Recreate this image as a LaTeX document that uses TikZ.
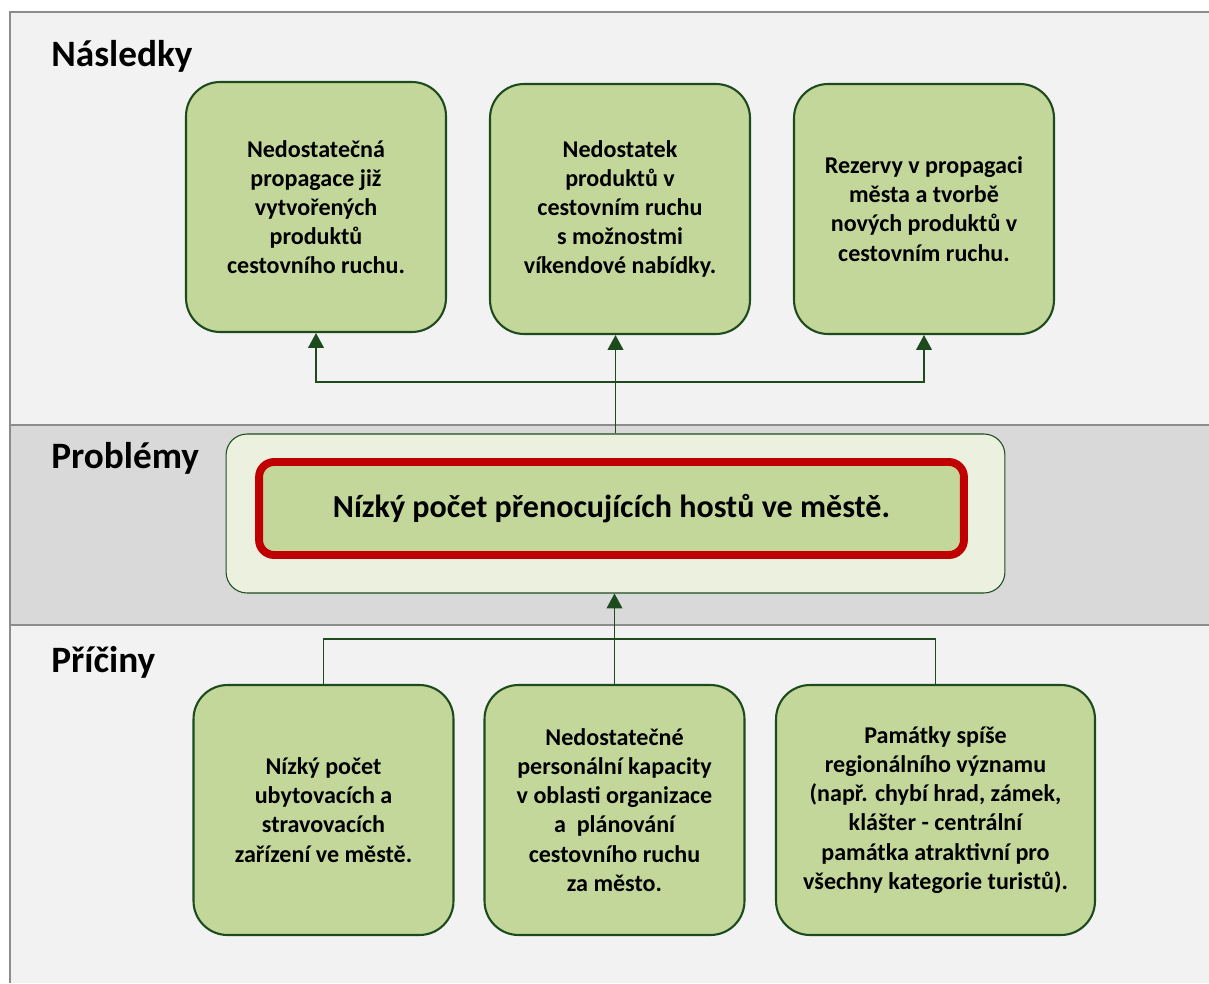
\documentclass[tikz,border=0pt]{standalone}
\usepackage{fontspec}
\setmainfont{Carlito}
\usetikzlibrary{arrows.meta}

\definecolor{bggray}{HTML}{F2F2F2}
\definecolor{bandgray}{HTML}{D9D9D9}
\definecolor{framegray}{HTML}{8C8C8C}
\definecolor{boxgreen}{HTML}{C4D79B}
\definecolor{palegreen}{HTML}{EBF1DE}
\definecolor{darkgreen}{HTML}{1E4B1E}
\definecolor{probred}{HTML}{C00000}

\tikzset{
  greenbox/.style={draw=darkgreen, line width=1.2pt, fill=boxgreen,
    rounded corners=0.68cm, minimum width=5.2cm, minimum height=5cm,
    inner sep=0pt, align=center,
    font=\bfseries\fontsize{13.7}{16.6}\selectfont},
  heading/.style={anchor=base west, inner sep=0pt,
    font=\bfseries\fontsize{21.2}{25}\selectfont},
  conn/.style={draw=darkgreen, line width=0.8pt},
  tip/.style={-{Triangle[width=9pt,length=8.5pt]}}
}

\begin{document}
\begin{tikzpicture}[x=0.02cm, y=-0.02cm]
    \useasboundingbox (0,0) rectangle (1209,983);

    % background and bands
    \fill[bggray] (10,12) rectangle (1209,983);
    \fill[bandgray] (10,425) rectangle (1209,625);
    \draw[framegray, line width=1.2pt] (1209,12) -- (10,12) -- (10,983);
    \draw[framegray, line width=1.6pt] (10,425) -- (1209,425);
    \draw[framegray, line width=1.6pt] (10,625) -- (1209,625);

    \node[heading] (hN) at (51,67) {Následky};
    \node[heading] (hP) at (51,468) {Problémy};
    \node[heading] (hC) at (51,672) {Příčiny};

    % consequences
    \node[greenbox] (c1) at (316,207) {Nedostatečná\\propagace již\\vytvořených\\produktů\\cestovního ruchu.};
    \node[greenbox] (c2) at (620,209) {Nedostatek\\produktů v\\cestovním ruchu\\s možnostmi\\víkendové nabídky.};
    \node[greenbox] (c3) at (924,209) {Rezervy v propagaci\\města a tvorbě\\nových produktů v\\cestovním ruchu.};

    % problem
    \node[draw=darkgreen, line width=0.6pt, fill=palegreen, rounded corners=0.42cm,
      minimum width=15.58cm, minimum height=3.18cm] (prob) at (615.5,513.5) {};
    \node[draw=probred, line width=4.5pt, fill=boxgreen, rounded corners=0.3cm,
      minimum width=14.1cm, minimum height=1.86cm,
      font=\bfseries\fontsize{18.25}{22}\selectfont] (probtxt) at (611.5,508.5)
      {Nízký počet přenocujících hostů ve městě.};

    % causes
    \node[greenbox] (r1) at (323.5,810) {Nízký počet\\ubytovacích a\\stravovacích\\zařízení ve městě.};
    \node[greenbox] (r2) at (614.5,810) {Nedostatečné\\personální kapacity\\v oblasti organizace\\a~ plánování\\cestovního ruchu\\za město.};
    \node[greenbox, minimum width=6.38cm] (r3) at (935.5,810) {Památky spíše\\regionálního významu\\(např. chybí hrad, zámek,\\klášter - centrální\\památka atraktivní pro\\všechny kategorie turistů).};

    % connectors up
    \coordinate (jt) at (616,382);
    \draw[conn, tip] (prob.north) -- (prob.north |- c2.south);
    \draw[conn, tip] (jt) -| (c1.south);
    \draw[conn, tip] (jt) -| (c3.south);

    % connectors down
    \coordinate (jb) at (615.5,639);
    \draw[conn, tip] (r2.north) -- (r2.north |- prob.south);
    \draw[conn] (r1.north) |- (jb) -| (r3.north);
\end{tikzpicture}
\end{document}
